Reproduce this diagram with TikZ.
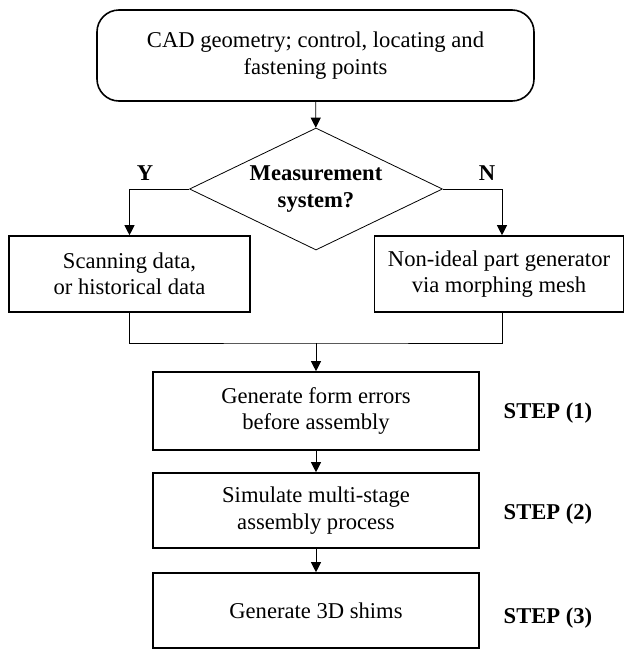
\documentclass[tikz,border=0pt]{standalone}
\usepackage{fontspec}
\setmainfont{Liberation Serif}
\usetikzlibrary{positioning,shapes.geometric,arrows.meta}
\tikzset{main box/.style={rectangle,draw,line width=1.6pt,align=center,inner sep=0pt},
  start node/.style={main box,rounded corners=22pt},
  decision node/.style={diamond,draw,line width=0.8pt,inner sep=0pt,minimum width=253pt,minimum height=122pt},
  link/.style={draw,line width=0.8pt,-{Triangle[length=10pt,width=10pt]}},
  plain link/.style={draw,line width=0.8pt} }

\begin{document}
\begin{tikzpicture}[x=1pt,y=1pt,font=\fontsize{22.6}{26.5}\selectfont]
\useasboundingbox (0,0) rectangle (625,-651);

  \node[start node,minimum width=437pt,minimum height=91pt] (cad) at (315.5,-55.5) {CAD geometry; control, locating and\\fastening points};
  \node[decision node,label={[font=\fontsize{22.6}{26.5}\selectfont\bfseries,align=center]center:Measurement\\system?}] (meas) at (316,-189) {};
  \node[main box,minimum width=241pt,minimum height=76pt] (scan) at (129.5,-274) {Scanning data,\\or historical data};
  \node[main box,minimum width=249pt,minimum height=76pt] (morph) at (499,-274) {Non-ideal part generator\\via morphing mesh};
  \node[main box,minimum width=326pt,minimum height=78pt] (form) at (316,-411) {Generate form errors\\before assembly};
  \node[main box,minimum width=326pt,minimum height=75pt] (simu) at (316,-510.5) {Simulate multi-stage\\assembly process};
  \node[main box,minimum width=326pt,minimum height=75pt] (shim) at (316,-610.5) {Generate 3D shims};

  \node[font=\fontsize{22.6}{26.5}\selectfont\bfseries] (yes) at (145,-173) {Y};
  \node[font=\fontsize{22.6}{26.5}\selectfont\bfseries] (no) at (487,-173) {N};
  \node[font=\fontsize{22.6}{26.5}\selectfont\bfseries] (s1) at (548,-413) {STEP (1)};
  \node[font=\fontsize{22.6}{26.5}\selectfont\bfseries] (s2) at (548,-514) {STEP (2)};
  \node[font=\fontsize{22.6}{26.5}\selectfont\bfseries] (s3) at (548,-618) {STEP (3)};

  \coordinate (join) at (316,-343);

  \path[link] (cad) -- (meas);
  \path[link] (meas.west) -| (scan.north);
  \path[link] (meas.east) -| ([xshift=3pt]morph.north);
  \path[plain link] (scan.south) |- (join) -| ([xshift=3pt]morph.south);
  \path[link] (join) -- (form);
  \path[link] (form) -- (simu);
  \path[link] (simu) -- (shim);
\end{tikzpicture}
\end{document}
